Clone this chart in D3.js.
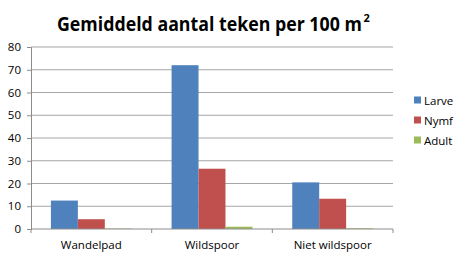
<!DOCTYPE html>
<html>
<head>
<meta charset="utf-8">
<script src="https://cdn.jsdelivr.net/npm/d3@7"></script>
<style>
  body { margin: 0; background: #fff; }
  text { font-family: "Open Sans", "Liberation Sans", sans-serif; }
</style>
</head>
<body>
<svg id="chart" width="476" height="259"></svg>
<script>
"use strict";

// data
const categories = ["Wandelpad", "Wildspoor", "Niet wildspoor"];
const seriesNames = ["Larve", "Nymf", "Adult"];
const larve = [12.5, 72, 20.5];
const nymf = [4.3, 26.5, 13.3];
const adult = [0.2, 1, 0.3];
const yTicks = [0, 10, 20, 30, 40, 50, 60, 70, 80];
const colors = ["#4F81BD", "#C0504D", "#9BBB59"];

const seriesValues = [larve, nymf, adult];

const svg = d3.select("#chart");
const margin = { left: 31, right: 83, top: 47, bottom: 30 };
const width = 476, height = 259;

const x = d3.scaleBand()
  .domain(categories)
  .range([margin.left, width - margin.right])
  .paddingInner(0.33)
  .paddingOuter(0.165);

const xSub = d3.scaleBand()
  .domain(seriesNames)
  .range([0, x.bandwidth()]);

const y = d3.scaleLinear()
  .domain([0, 80])
  .range([height - margin.bottom, margin.top]);

// title: squeeze horizontally to a Calibri-like width
const titleX = 57, titleW = 305;
const titleG = svg.append("g");
const titleText = titleG.append("text")
  .attr("x", 0)
  .attr("y", 0)
  .attr("font-size", 19.5)
  .attr("font-weight", "bold")
  .attr("fill", "#000")
  .text("Gemiddeld aantal teken per 100 m");
const naturalW = titleText.node().getComputedTextLength();
titleG.attr("transform", `translate(${titleX},31) scale(${titleW / naturalW},1)`);
svg.append("text")
  .attr("x", titleX + titleW + 1.5)
  .attr("y", 22)
  .attr("font-size", 11)
  .attr("font-weight", "bold")
  .attr("fill", "#000")
  .text("2");

// gridlines
svg.append("g")
  .selectAll("line")
  .data(yTicks.slice(1))
  .join("line")
  .attr("x1", margin.left)
  .attr("x2", width - margin.right)
  .attr("y1", d => y(d))
  .attr("y2", d => y(d))
  .attr("stroke", "#a6a6a6")
  .attr("stroke-width", 1);

// bars
const groups = svg.append("g")
  .selectAll("g")
  .data(seriesNames)
  .join("g")
  .attr("fill", (d, i) => colors[i]);

groups.selectAll("rect")
  .data((s, i) => seriesValues[i].map((v, j) => ({ s: s, cat: categories[j], v: v })))
  .join("rect")
  .attr("x", d => x(d.cat) + xSub(d.s))
  .attr("width", xSub.bandwidth())
  .attr("y", d => y(d.v))
  .attr("height", d => y(0) - y(d.v));

// y axis
const yAxis = svg.append("g")
  .attr("transform", `translate(${margin.left},0)`)
  .call(d3.axisLeft(y).tickValues(yTicks).tickSize(4).tickPadding(6));
yAxis.select(".domain").attr("stroke", "#8c8c8c");
yAxis.selectAll(".tick line").attr("stroke", "#8c8c8c");
yAxis.selectAll(".tick text").attr("font-size", 11.5).attr("fill", "#000")
  .style("font-family", '"Open Sans", "Liberation Sans", sans-serif');

// x axis
const plotW = width - margin.left - margin.right;
const bounds = [0, 1, 2, 3].map(i => margin.left + i * plotW / 3);
const xAxis = svg.append("g");
xAxis.append("line")
  .attr("x1", margin.left).attr("x2", width - margin.right)
  .attr("y1", y(0)).attr("y2", y(0))
  .attr("stroke", "#8c8c8c");
xAxis.selectAll("line.tk")
  .data(bounds)
  .join("line")
  .attr("class", "tk")
  .attr("x1", d => d).attr("x2", d => d)
  .attr("y1", y(0)).attr("y2", y(0) + 4)
  .attr("stroke", "#8c8c8c");
xAxis.selectAll("text")
  .data(categories)
  .join("text")
  .attr("x", d => x(d) + x.bandwidth() / 2)
  .attr("y", y(0) + 20)
  .attr("text-anchor", "middle")
  .attr("font-size", 11.5)
  .attr("fill", "#000")
  .text(d => d);

// legend
const legend = svg.append("g")
  .selectAll("g")
  .data(seriesNames)
  .join("g")
  .attr("transform", (d, i) => `translate(414,${100 + i * 20})`);
legend.append("rect")
  .attr("x", 0).attr("y", -3.5)
  .attr("width", 7).attr("height", 7)
  .attr("fill", (d, i) => colors[i]);
legend.append("text")
  .attr("x", 10).attr("y", 4.5)
  .attr("font-size", 11.5)
  .attr("fill", "#000")
  .text(d => d);
</script>
</body>
</html>
